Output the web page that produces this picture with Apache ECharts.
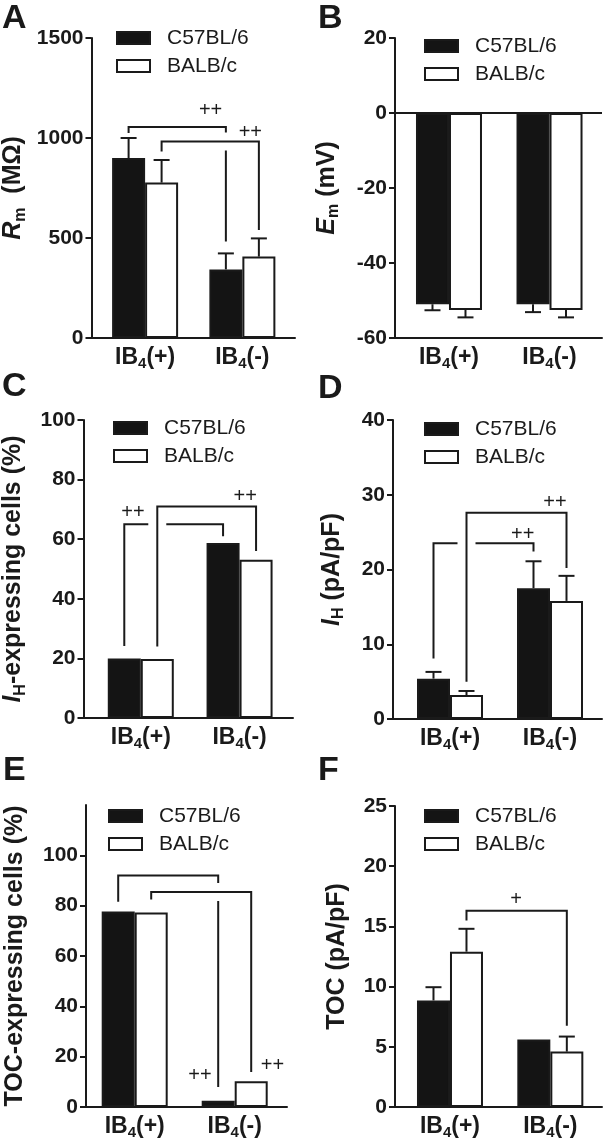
<!DOCTYPE html>
<html><head><meta charset="utf-8">
<script src="https://cdn.jsdelivr.net/npm/echarts@6/dist/echarts.min.js"></script>
<style>html,body{margin:0;padding:0;background:#fff}#c{width:604px;height:1144px}</style>
</head><body><div id="c"></div>
<script>
// ---------- data ----------
const groups = ['IB4(+)', 'IB4(-)'];
const strains = ['C57BL/6', 'BALB/c'];

// A: Rm (MOhm)
const rmC57 = [900, 343];   const rmC57Err = [100, 80];
const rmBALB = [777, 407];  const rmBALBErr = [113, 91];
const ticksA = [0, 500, 1000, 1500];
// B: Em (mV)
const emC57 = [-51, -51];   const emC57Err = [1.6, 2.1];
const emBALB = [-52.5, -52.5]; const emBALBErr = [2.0, 2.0];
const ticksB = [-60, -40, -20, 0, 20];
// C: IH-expressing cells (%)
const ihPctC57 = [20, 58.7];
const ihPctBALB = [19.8, 53.1];
const ticksC = [0, 20, 40, 60, 80, 100];
// D: IH (pA/pF)
const ihC57 = [5.4, 17.5];  const ihC57Err = [0.9, 3.6];
const ihBALB = [3.2, 15.8]; const ihBALBErr = [0.55, 3.35];
const ticksD = [0, 10, 20, 30, 40];
// E: TOC-expressing cells (%)
const tocPctC57 = [77.7, 2.5];
const tocPctBALB = [77.3, 10.2];
const ticksE = [0, 20, 40, 60, 80, 100];
// F: TOC (pA/pF)
const tocC57 = [8.85, 5.6]; const tocC57Err = [1.1, 0];
const tocBALB = [12.9, 4.6]; const tocBALBErr = [1.9, 1.25];
const ticksF = [0, 5, 10, 15, 20, 25];

// brackets: [group1, bar1 (-1 C57 / +1 BALB), group2, bar2, top, leg1 end, leg2 end]
const bracketsA = [[0, -1, 1, -1, 1055, 1025, 482], [0, 1, 1, 1, 982, 932, 540]];
const bracketsC = [[0, -1, 1, -1, 65, 24.2, 61], [0, 1, 1, 1, 71, 24, 56]];
const bracketsD = [[0, -1, 1, -1, 23.5, 8.1, 22.4], [0, 1, 1, 1, 27.6, 5.0, 20.2]];
const bracketsE = [[0, -1, 1, -1, 92, 81.6, 7.9], [0, 1, 1, 1, 85.4, 82.5, 13.9]];
const bracketsF = [[0, 1, 1, 1, 16.3, 15.5, 6.75]];
// significance marks: [x (group units), y, text]
const sigA = [[0.673, 1137, '++'], [1.082, 1027, '++']];
const sigC = [[-0.08, 68.8, '++'], [1.058, 74.2, '++']];
const sigD = [[0.727, 24.7, '++'], [1.05, 28.9, '++']];
const sigE = [[0.653, 12.6, '++'], [1.378, 16.6, '++']];
const sigF = [[0.658, 17.2, '+']];

// ---------- style / layout ----------
const FONT = '"Liberation Sans", Arial, Helvetica, sans-serif';
const INK = '#1a1a1a';
const BW = 33;   // bar width px
const CAP = 16;  // error cap width px

const panels = [
  {letter: 'A', lx: 2, lb: 30, grid: {left: 90, top: 38, width: 205, height: 300}, xMin: -0.551, xMax: 1.541,
   yMin: 0, yMax: 1500, interval: 500, ticks: ticksA, name: '{i|R}{s|m}{b|  (MΩ)}', nameGap: 63,
   legend: {left: 116, top: 27}, c57: rmC57, c57Err: rmC57Err, balb: rmBALB, balbErr: rmBALBErr,
   brackets: bracketsA, sig: sigA},
  {letter: 'B', lx: 318, lb: 30, grid: {left: 395, top: 38, width: 207, height: 300}, xMin: -0.537, xMax: 1.522,
   yMin: -60, yMax: 20, interval: 20, ticks: ticksB, name: '{i|E}{s|m}{b| (mV)}', nameGap: 53,
   legend: {left: 424, top: 35}, c57: emC57, c57Err: emC57Err, balb: emBALB, balbErr: emBALBErr,
   brackets: [], sig: [], zeroLine: true},
  {letter: 'C', lx: 2, lb: 398, grid: {left: 82, top: 420, width: 211, height: 298}, xMin: -0.58, xMax: 1.541,
   yMin: 0, yMax: 100, interval: 20, ticks: ticksC, name: '{i|I}{s|H}{b|-expressing cells (%)}', nameGap: 55,
   legend: {left: 113, top: 417}, c57: ihPctC57, balb: ihPctBALB, brackets: bracketsC, sig: sigC},
  {letter: 'D', lx: 318, lb: 400, grid: {left: 393, top: 420, width: 209, height: 299}, xMin: -0.57, xMax: 1.52,
   yMin: 0, yMax: 40, interval: 10, ticks: ticksD, name: '{i|I}{s|H}{b| (pA/pF)}', nameGap: 46,
   legend: {left: 424, top: 418}, c57: ihC57, c57Err: ihC57Err, balb: ihBALB, balbErr: ihBALBErr,
   brackets: bracketsD, sig: sigD},
  {letter: 'E', lx: 3, lb: 782, grid: {left: 86, top: 805, width: 201, height: 302}, xMin: -0.487, xMax: 1.523,
   yMin: 0, yMax: 120, interval: 20, ticks: ticksE, name: '{b|TOC-expressing cells (%)}', nameGap: 56,
   legend: {left: 108, top: 805}, c57: tocPctC57, balb: tocPctBALB, brackets: bracketsE, sig: sigE},
  {letter: 'F', lx: 318, lb: 782, grid: {left: 395, top: 806, width: 207, height: 301}, xMin: -0.548, xMax: 1.515,
   yMin: 0, yMax: 25, interval: 5, ticks: ticksF, name: '{b|TOC (pA/pF)}', nameGap: 43,
   legend: {left: 424, top: 805}, c57: tocC57, c57Err: tocC57Err, balb: tocBALB, balbErr: tocBALBErr,
   brackets: bracketsF, sig: sigF}
];

function groupLabel(v) {
  const g = groups[Math.round(v)];
  if (!g) return '';
  return '{b|' + g.slice(0, 2) + '}{s|' + g.slice(2, 3) + '}{b|' + g.slice(3) + '}';
}

function errRender(side) {
  return function (params, api) {
    const k = api.value(0), v = api.value(1), e = api.value(2);
    if (!e) return null;
    const base = api.coord([k, v]);
    const tip = api.coord([k, v + (v < 0 ? -e : e)]);
    const x = base[0] + side * BW / 2;
    return {type: 'group', children: [
      {type: 'line', shape: {x1: x, y1: base[1], x2: x, y2: tip[1]}, style: {stroke: INK, lineWidth: 2}},
      {type: 'line', shape: {x1: x - CAP / 2, y1: tip[1], x2: x + CAP / 2, y2: tip[1]}, style: {stroke: INK, lineWidth: 2}}
    ]};
  };
}

function bracketRender(params, api) {
  const top = api.value(4);
  const x1 = api.coord([api.value(0), top])[0] + api.value(1) * BW / 2;
  const x2 = api.coord([api.value(2), top])[0] + api.value(3) * BW / 2;
  const yT = api.coord([0, top])[1];
  const y1 = api.coord([0, api.value(5)])[1];
  const y2 = api.coord([0, api.value(6)])[1];
  const pts = [[x1, y1], [x1, yT], [x2, yT], [x2, y2]];
  const i = params.dataIndex;
  return {type: 'group', children: [
    {type: 'polyline', z2: i * 2, shape: {points: pts}, style: {stroke: '#fff', lineWidth: 18, fill: null, lineCap: 'butt'}},
    {type: 'polyline', z2: i * 2 + 1, shape: {points: pts}, style: {stroke: INK, lineWidth: 2, fill: null}}
  ]};
}

function sigRender(sig) {
  return function (params, api) {
    const p = api.coord([api.value(0), api.value(1)]);
    return {type: 'text', x: p[0], y: p[1], style: {text: sig[params.dataIndex][2], font: '20px ' + FONT,
      fill: INK, align: 'center', verticalAlign: 'middle'}};
  };
}

const grids = [], xAxes = [], yAxes = [], series = [], legends = [], graphics = [];
panels.forEach((P, i) => {
  grids.push(Object.assign({containLabel: false}, P.grid));
  xAxes.push({
    type: 'value', gridIndex: i, min: P.xMin, max: P.xMax,
    axisLine: {show: true, onZero: false, lineStyle: {color: INK, width: 2}},
    axisTick: {show: false}, splitLine: {show: false},
    axisLabel: {customValues: groups.map((g, k) => k), formatter: groupLabel, margin: 7,
      rich: {
        b: {fontFamily: FONT, fontWeight: 'bold', fontSize: 23, color: INK, lineHeight: 26},
        s: {fontFamily: FONT, fontWeight: 'bold', fontSize: 15, color: INK, lineHeight: 14, verticalAlign: 'bottom'}
      }}
  });
  yAxes.push({
    type: 'value', gridIndex: i, min: P.yMin, max: P.yMax, interval: P.interval,
    name: P.name, nameLocation: 'middle', nameGap: P.nameGap, nameRotate: 90,
    nameTextStyle: {fontFamily: FONT, fontWeight: 'bold', fontSize: 25, color: INK,
      rich: {
        i: {fontFamily: FONT, fontStyle: 'italic', fontWeight: 'bold', fontSize: 25, color: INK, lineHeight: 30},
        s: {fontFamily: FONT, fontWeight: 'bold', fontSize: 16, color: INK, lineHeight: 16, verticalAlign: 'bottom'},
        b: {fontFamily: FONT, fontWeight: 'bold', fontSize: 25, color: INK, lineHeight: 30}
      }},
    axisLine: {show: true, onZero: false, lineStyle: {color: INK, width: 2}},
    axisTick: {show: true, length: 6, lineStyle: {color: INK, width: 2}, customValues: P.ticks},
    axisLabel: {customValues: P.ticks, formatter: v => String(v), fontFamily: FONT, fontWeight: 'bold',
      fontSize: 21, color: INK, margin: 8},
    splitLine: {show: false}
  });
  const c57Bar = {
    type: 'bar', name: strains[0], xAxisIndex: i, yAxisIndex: i, barWidth: BW, barGap: '0%', z: 3,
    data: groups.map((g, k) => [k, P.c57[k]]),
    itemStyle: {color: '#141414', borderColor: INK, borderWidth: 2}
  };
  if (P.zeroLine) {
    c57Bar.markLine = {silent: true, symbol: ['none', 'none'], label: {show: false},
      lineStyle: {color: INK, width: 2, type: 'solid'}, data: [{yAxis: 0}]};
  }
  series.push(c57Bar);
  series.push({
    type: 'bar', name: strains[1], xAxisIndex: i, yAxisIndex: i, barWidth: BW, barGap: '0%', z: 3,
    data: groups.map((g, k) => [k, P.balb[k]]),
    itemStyle: {color: '#ffffff', borderColor: INK, borderWidth: 2}
  });
  if (P.c57Err) series.push({type: 'custom', name: 'errC57_' + i, xAxisIndex: i, yAxisIndex: i, z: 4, clip: false,
    renderItem: errRender(-1), data: groups.map((g, k) => [k, P.c57[k], P.c57Err[k]])});
  if (P.balbErr) series.push({type: 'custom', name: 'errBALB_' + i, xAxisIndex: i, yAxisIndex: i, z: 4, clip: false,
    renderItem: errRender(1), data: groups.map((g, k) => [k, P.balb[k], P.balbErr[k]])});
  if (P.brackets.length) series.push({type: 'custom', name: 'br_' + i, xAxisIndex: i, yAxisIndex: i, z: 2, clip: false,
    renderItem: bracketRender, data: P.brackets});
  if (P.sig.length) series.push({type: 'custom', name: 'sig_' + i, xAxisIndex: i, yAxisIndex: i, z: 5, clip: false,
    renderItem: sigRender(P.sig), data: P.sig.map(s => [s[0], s[1]])});
  legends.push({
    show: true, orient: 'vertical', left: P.legend.left, top: P.legend.top, selectedMode: false,
    itemWidth: 33, itemHeight: 12, itemGap: 6, padding: 0,
    textStyle: {fontFamily: FONT, fontSize: 21, color: INK, lineHeight: 22, padding: [0, 0, 0, 12]},
    data: [
      {name: strains[0], icon: 'rect', itemStyle: {color: '#141414', borderColor: INK, borderWidth: 2}},
      {name: strains[1], icon: 'rect', itemStyle: {color: '#ffffff', borderColor: INK, borderWidth: 2}}
    ]
  });
  graphics.push({type: 'text', x: P.lx, y: P.lb - 11,
    style: {text: P.letter, font: 'bold 34px ' + FONT, fill: INK, align: 'left', verticalAlign: 'middle'}});
});

const chart = echarts.init(document.getElementById('c'), null, {renderer: 'canvas'});
chart.setOption({
  animation: false, backgroundColor: '#fff',
  grid: grids, xAxis: xAxes, yAxis: yAxes, legend: legends, series: series, graphic: graphics
});
</script></body></html>
